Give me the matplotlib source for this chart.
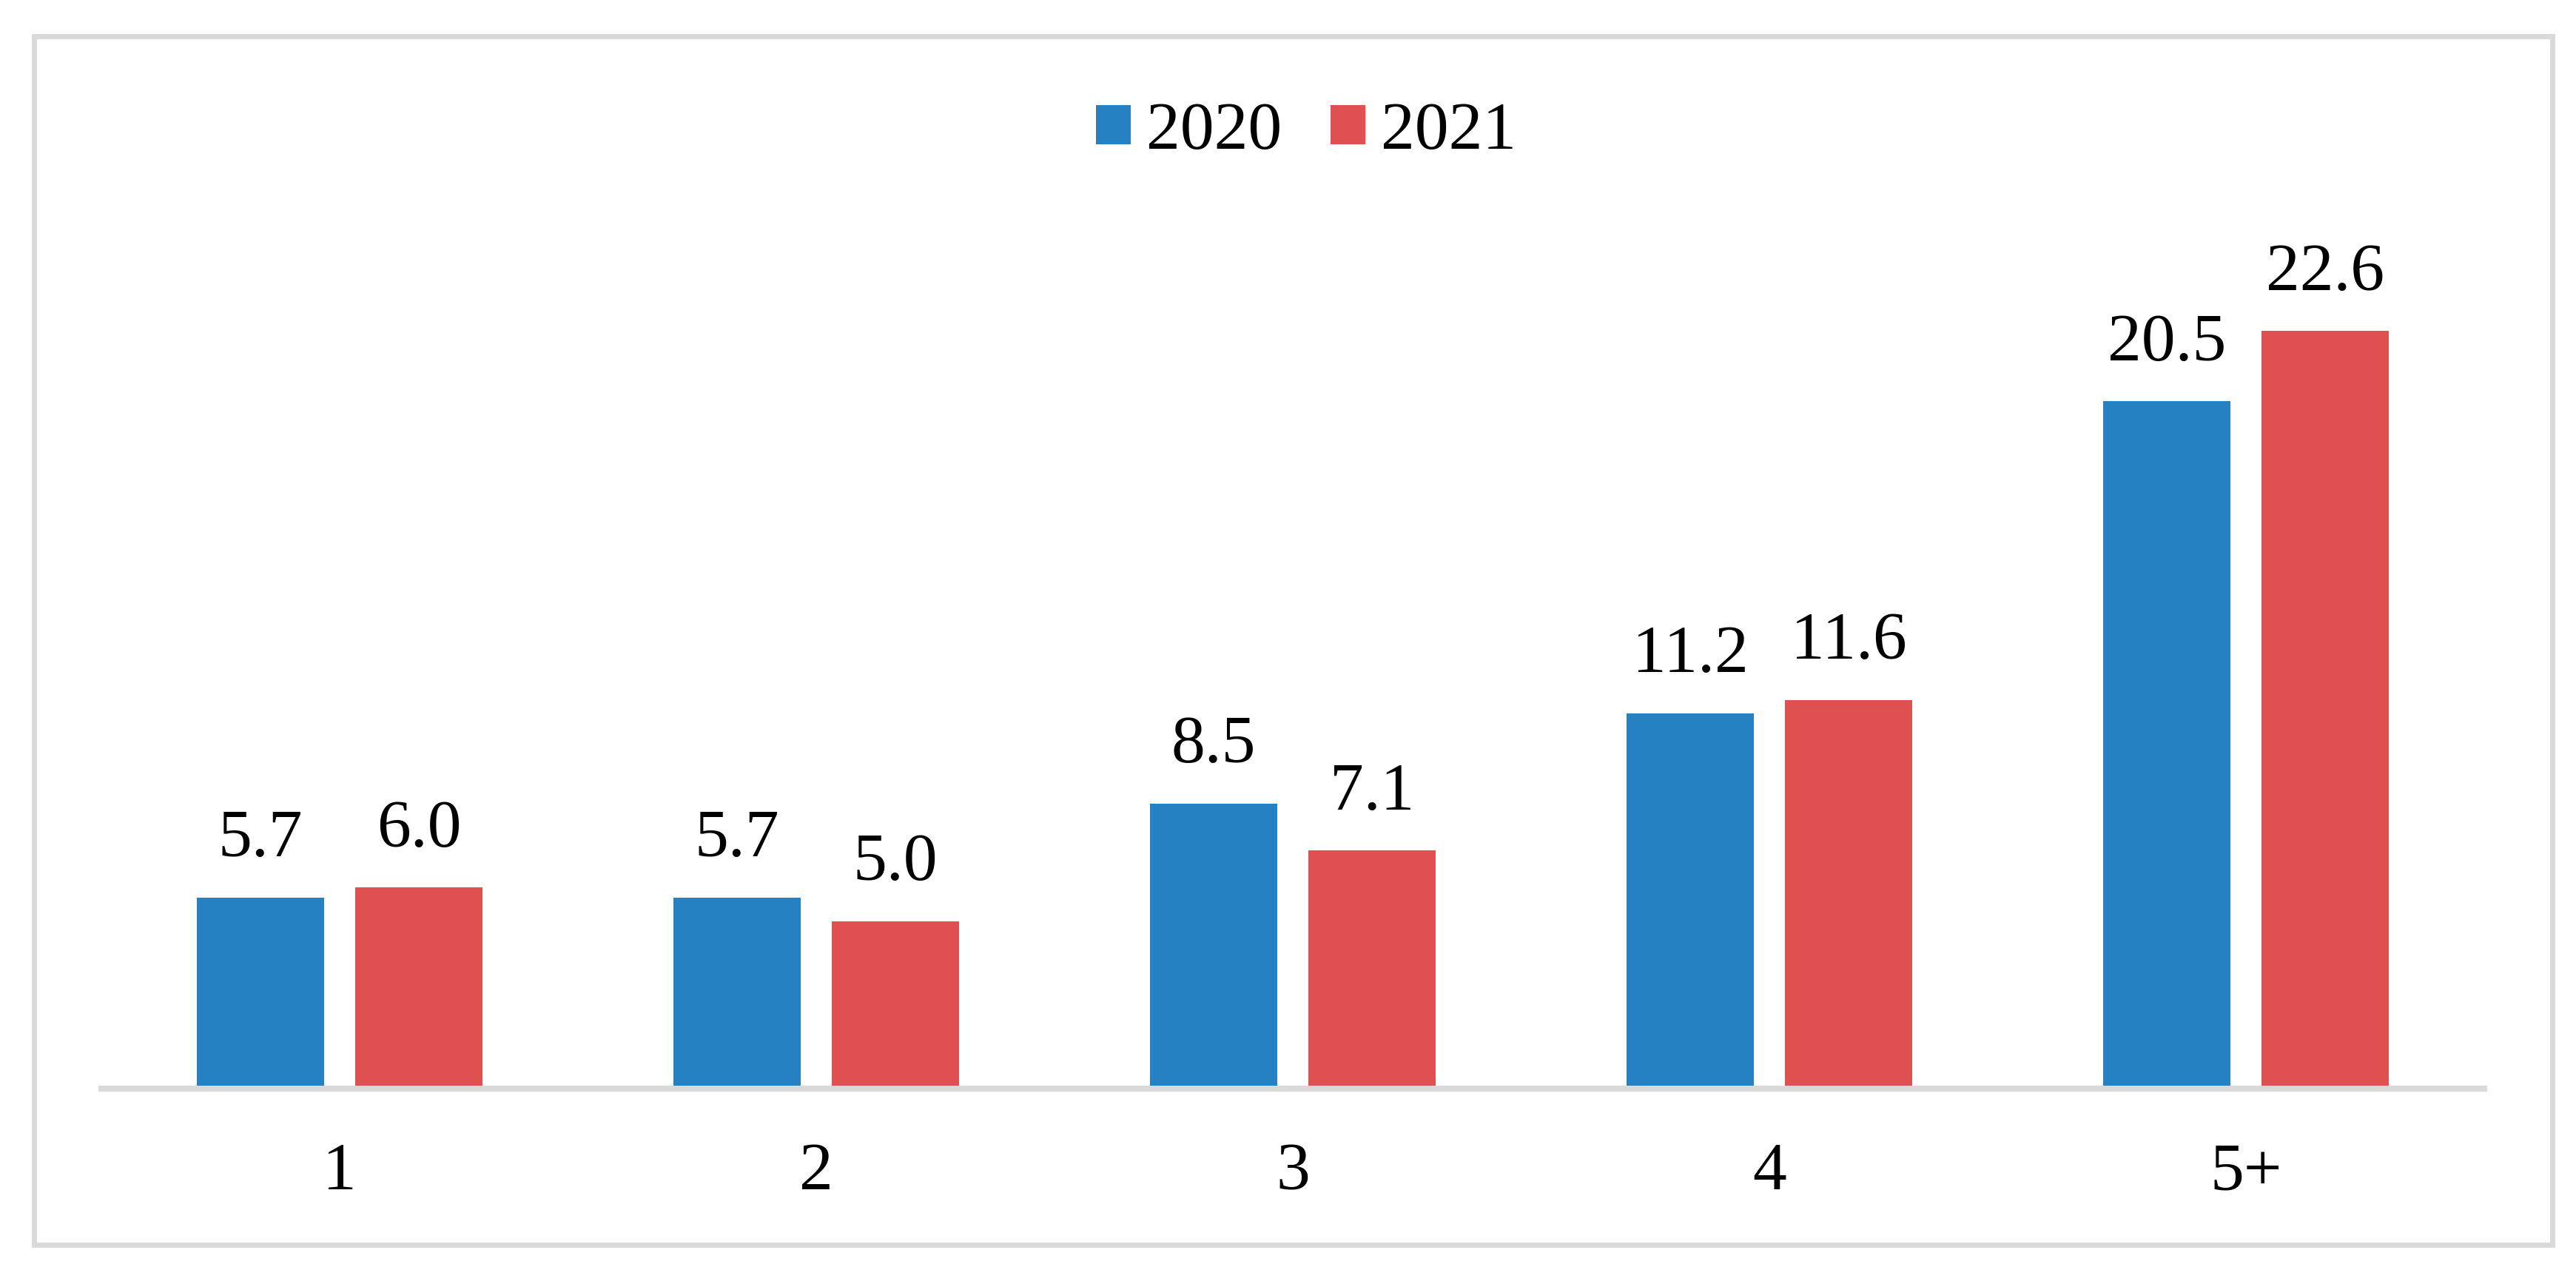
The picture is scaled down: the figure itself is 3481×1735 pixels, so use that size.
import matplotlib
matplotlib.use("Agg")
import matplotlib.pyplot as plt
from matplotlib.patches import Rectangle, Patch
import numpy as np

categories = ["1", "2", "3", "4", "5+"]
years = ["2020", "2021"]
values_2020 = [5.7, 5.7, 8.5, 11.2, 20.5]
values_2021 = [6.0, 5.0, 7.1, 11.6, 22.6]
colors = ["#2581C1", "#DF5150"]

plt.rcParams["font.family"] = ["Liberation Serif", "DejaVu Serif"]

W, H = 3481, 1735
fig = plt.figure(figsize=(W / 100, H / 100), dpi=100)
ax = fig.add_axes([137 / W, 1 - 1471 / H, 3220 / W, 27 * 45.3 / H])

x = np.arange(len(categories))
bw = 0.267
off = 0.166
fs = 66

for i, (vals, col) in enumerate([(values_2020, colors[0]), (values_2021, colors[1])]):
    pos = x - off if i == 0 else x + off
    bars = ax.bar(pos, vals, width=bw, color=col, zorder=2)
    for xb, v in zip(pos, vals):
        ax.annotate(f"{v:.1f}", (xb, v), xytext=(0, 40), textcoords="offset points",
                    ha="center", va="baseline", fontsize=fs, color="black")

ax.set_xlim(-0.5, 4.5)
ax.set_ylim(0, 27)
ax.set_yticks([])
ax.set_xticks(x, categories, fontsize=fs)
ax.tick_params(axis="x", length=0, pad=98)
for lbl in ax.get_xticklabels():
    lbl.set_va("baseline")
for s in ["top", "left", "right"]:
    ax.spines[s].set_visible(False)
ax.spines["bottom"].set_color("#D9D9D9")
ax.spines["bottom"].set_linewidth(5.76)
ax.spines["bottom"].set_zorder(3)
ax.patch.set_visible(False)

handles = [Patch(facecolor=c, edgecolor="none") for c in colors]
fig.legend(handles, years, loc="center", bbox_to_anchor=(1765 / W, 1 - 179 / H),
           ncol=2, frameon=False, fontsize=fs, handlelength=0.51, handleheight=0.51,
           handletextpad=0.23, columnspacing=0.72, borderpad=0, borderaxespad=0)

frame = Rectangle((45.5 / W, 1 - 1681.5 / H), (3448.5 - 45.5) / W, (1681.5 - 49) / H,
                  transform=fig.transFigure, fill=False, edgecolor="#D9D9D9",
                  linewidth=5.0, zorder=0)
fig.patches.append(frame)

fig.savefig("out.png", dpi=100, facecolor="white")
